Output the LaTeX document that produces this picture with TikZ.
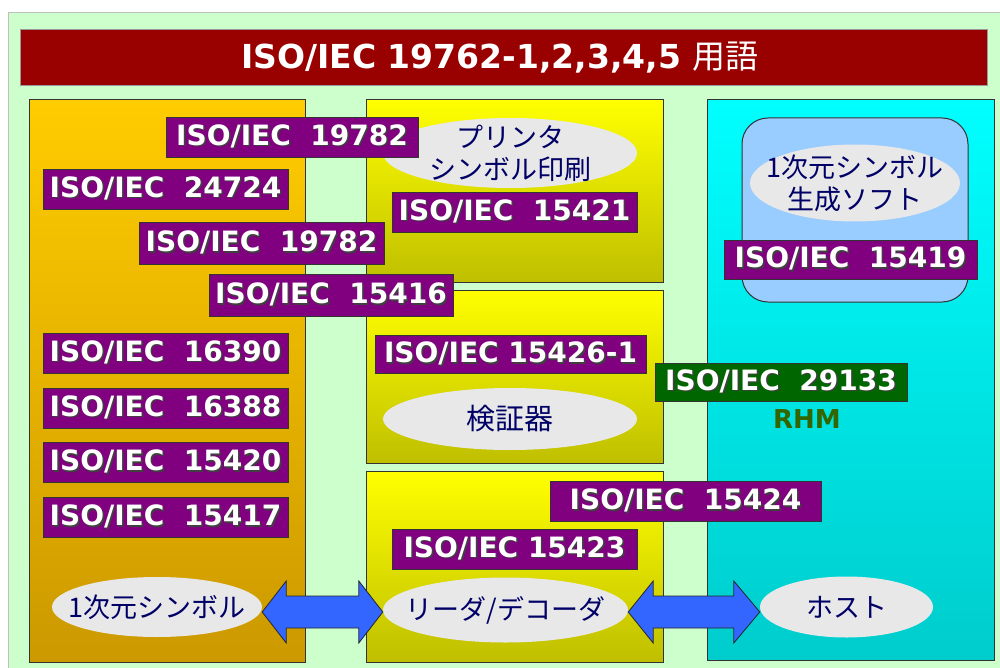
\documentclass[tikz,border=0pt]{standalone}
\usepackage{fontspec}
\setmainfont{DejaVu Sans}
\newfontfamily\jp{Noto Sans CJK JP}
\usetikzlibrary{shapes.geometric,calc}
\definecolor{bggreen}{HTML}{CCFFCC}
\definecolor{titlered}{HTML}{990000}
\definecolor{labpurple}{HTML}{800080}
\definecolor{labgreen}{HTML}{006600}
\definecolor{rhmgreen}{HTML}{336600}
\definecolor{ovalgray}{HTML}{E8E8E8}
\definecolor{navy}{HTML}{000066}
\definecolor{arrowblue}{HTML}{3366FF}
\definecolor{orangetop}{HTML}{FFCC00}
\definecolor{orangebot}{HTML}{CC9900}
\definecolor{yeltop}{HTML}{FFFF00}
\definecolor{yelbot}{HTML}{BFBF00}
\definecolor{cyantop}{HTML}{00FFFF}
\definecolor{cyanbot}{HTML}{00CCCC}
\definecolor{softblue}{HTML}{99CCFF}
\newcommand{\shtxt}[1]{\makebox[0pt][l]{\hspace{1.6pt}\raisebox{-1.6pt}{\textcolor{black!75}{#1}}}\textcolor{white}{#1}}
\tikzset{
  lbl/.style={draw=black!80, line width=0.8pt, fill=labpurple, inner sep=0pt,
    minimum height=40pt, font=\fontsize{28}{30}\selectfont\bfseries},
  oval/.style={ellipse, fill=ovalgray, inner sep=0pt},
  ovaltext/.style={inner sep=0pt, text=navy, font=\jp\fontsize{27}{32}\selectfont, align=center},
  panel/.style={draw=black!80, line width=1pt},
  bigarrow/.style={fill=arrowblue, draw=black!85, line width=0.8pt, line join=miter}
}
\begin{document}
\begin{tikzpicture}[x=1pt,y=-1pt]
\useasboundingbox (0,0) rectangle (1000,668);
% background
\fill[white] (0,0) rectangle (1000,668);
\fill[bggreen] (8,13) rectangle (1000,668);
\draw[black!25, line width=1pt] (8,668) -- (8,13) -- (1000,13);
% title
\node[draw=black!40, fill=titlered, minimum width=967pt, minimum height=56pt, inner sep=0pt] (titlebar) at (503.5,57) {};
\node[text=white, font=\fontsize{33}{36}\selectfont\bfseries] (title) at (500,58) {ISO/IEC 19762-1,2,3,4,5 {\jp\mdseries 用語}};
% panels
\draw[panel, top color=orangetop, bottom color=orangebot] (29,100) rectangle (305,662);
\draw[panel, top color=yeltop, bottom color=yelbot] (366,100) rectangle (663,282);
\draw[panel, top color=yeltop, bottom color=yelbot] (366,290) rectangle (663,463);
\draw[panel, top color=yeltop, bottom color=yelbot] (366,471) rectangle (663,662);
\draw[panel, top color=cyantop, bottom color=cyanbot] (707,100) rectangle (994,660);
\draw[draw=black!80, line width=1pt, fill=softblue, rounded corners=26pt] (742,118) rectangle (968,302);
% ovals
\node[oval, minimum width=254pt, minimum height=70pt] (ovp) at (510,153) {};
\node[ovaltext] (ovpt) at (ovp) {プリンタ\\シンボル印刷};
\node[oval, minimum width=254pt, minimum height=62pt] (ovv) at (510,419) {};
\node[ovaltext, font=\jp\fontsize{29}{32}\selectfont] (ovvt) at (ovv) {検証器};
\node[oval, minimum width=210pt, minimum height=77pt] (ovg) at (855,183) {};
\node[ovaltext] (ovgt) at (ovg) {1次元シンボル\\生成ソフト};
\node[oval, minimum width=210pt, minimum height=60pt] (sym) at (157,607) {};
\node[ovaltext] (symt) at (sym) {1次元シンボル};
\node[oval, minimum width=245pt, minimum height=65pt] (rd) at (505.5,610) {};
\node[ovaltext] (rdt) at (rd) {リーダ/デコーダ};
\node[oval, minimum width=173pt, minimum height=61pt] (host) at (846.5,607) {};
\node[ovaltext] (hostt) at (host) {ホスト};
% labels
\node[lbl, minimum width=252pt] (l1) at (292,137) {\shtxt{ISO/IEC\ \ 19782}};
\node[lbl, minimum width=245pt] (l2) at (165.5,189) {\shtxt{ISO/IEC\ \ 24724}};
\node[lbl, minimum width=245pt, minimum height=42pt] (l3) at (261.5,243.5) {\shtxt{ISO/IEC\ \ 19782}};
\node[lbl, minimum width=244pt, minimum height=42pt] (l4) at (331,295.5) {\shtxt{ISO/IEC\ \ 15416}};
\node[lbl, minimum width=245pt] (l5) at (165.5,353) {\shtxt{ISO/IEC\ \ 16390}};
\node[lbl, minimum width=245pt] (l6) at (165.5,408) {\shtxt{ISO/IEC\ \ 16388}};
\node[lbl, minimum width=245pt] (l7) at (165.5,462.5) {\shtxt{ISO/IEC\ \ 15420}};
\node[lbl, minimum width=245pt] (l8) at (165.5,517.5) {\shtxt{ISO/IEC\ \ 15417}};
\node[lbl, minimum width=245pt] (m1) at (514.5,212) {\shtxt{ISO/IEC\ \ 15421}};
\node[lbl, minimum width=271pt, minimum height=38pt] (m2) at (510.5,354.5) {\shtxt{ISO/IEC 15426-1}};
\node[lbl, minimum width=271pt] (m3) at (685.5,501.5) {\shtxt{ISO/IEC\ \ 15424}};
\node[lbl, minimum width=245pt] (m4) at (514.5,549) {\shtxt{ISO/IEC 15423}};
\node[lbl, minimum width=253pt, minimum height=39pt] (r1) at (850.5,259.5) {\shtxt{ISO/IEC\ \ 15419}};
\node[lbl, fill=labgreen, minimum width=252pt, minimum height=38pt] (g1) at (781,382) {\shtxt{ISO/IEC\ \ 29133}};
\node[text=rhmgreen, font=\fontsize{26}{28}\selectfont\bfseries, inner sep=0pt] (rhm) at (807,419) {RHM};
% double arrows
\path[bigarrow] let \p1=(sym.east), \p2=(rd.west) in
  (\x1,\y1-5pt) -- (\x1+24pt,\y1+26pt) -- (\x1+24pt,\y1+11pt) -- (\x2-24pt,\y1+11pt)
  -- (\x2-24pt,\y1+26pt) -- (\x2,\y1-5pt) -- (\x2-24pt,\y1-36pt) -- (\x2-24pt,\y1-21pt)
  -- (\x1+24pt,\y1-21pt) -- (\x1+24pt,\y1-36pt) -- cycle;
\path[bigarrow] let \p1=(rd.east), \p2=(host.west) in
  (\x1,\y1-2pt) -- (\x1+25pt,\y1+29pt) -- (\x1+25pt,\y1+14pt) -- (\x2-26pt,\y1+14pt)
  -- (\x2-26pt,\y1+29pt) -- (\x2,\y1-2pt) -- (\x2-26pt,\y1-33pt) -- (\x2-26pt,\y1-18pt)
  -- (\x1+25pt,\y1-18pt) -- (\x1+25pt,\y1-33pt) -- cycle;
\end{tikzpicture}
\end{document}
